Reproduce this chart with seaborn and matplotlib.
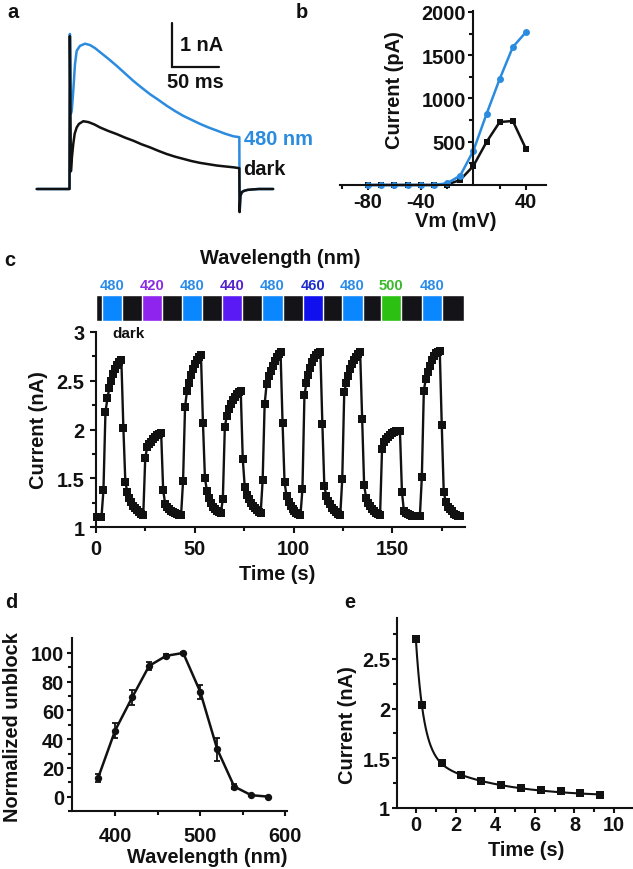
import numpy as np
import pandas as pd
import matplotlib
matplotlib.use("Agg")
import matplotlib.pyplot as plt
import matplotlib.transforms as mtransforms
import seaborn as sns

# ---------------- data ----------------
# panel a: current traces (time ms, current nA)
trace_t_480 = [-34.6, 0.0, 0.4, 1.5, 2.5, 4.0, 5.8, 7.6, 11.0, 16.4, 21.6, 27.0, 32.2, 41.0, 49.8,
               58.6, 67.4, 76.0, 85.0, 94.0, 102.6, 111.4, 120.2, 129.0, 137.8, 146.6, 155.4,
               164.0, 173.0, 179.3, 179.6, 180.5, 182.0, 184.5, 188.0, 193.0, 200.0, 215.0]
trace_i_480 = [0.0, 0.0, 3.50, 1.70, 1.80, 2.22, 2.82, 3.12, 3.23, 3.28, 3.25, 3.18, 3.09, 2.94, 2.78,
               2.61, 2.44, 2.29, 2.14, 2.01, 1.88, 1.76, 1.65, 1.56, 1.47, 1.39, 1.32,
               1.25, 1.19, 1.17, -0.52, -0.15, -0.07, -0.04, -0.02, -0.01, 0.0, 0.0]
trace_t_dark = [-34.6, 0.0, 0.4, 1.5, 2.5, 4.0, 5.5, 7.6, 10.0, 14.6, 20.0, 26.0, 32.2, 41.0, 49.8,
                58.6, 67.4, 76.0, 85.0, 94.0, 102.6, 111.4, 120.2, 129.0, 137.8, 146.6, 155.4,
                164.0, 173.0, 179.3, 179.6, 180.5, 182.0, 184.5, 188.0, 193.0, 200.0, 215.0]
trace_i_dark = [0.0, 0.0, 3.45, 0.40, 0.70, 1.02, 1.25, 1.39, 1.47, 1.53, 1.51, 1.46, 1.39, 1.31, 1.24,
                1.16, 1.09, 1.01, 0.94, 0.86, 0.79, 0.73, 0.68, 0.63, 0.59, 0.56, 0.53,
                0.51, 0.49, 0.47, -0.52, -0.15, -0.07, -0.04, -0.02, -0.01, 0.0, 0.0]

# panel b: I-V
vm = [-80, -70, -60, -50, -40, -30, -20, -10, 0, 10, 20, 30, 40]
iv_dark = [0, 0, 0, 0, 0, 0, 5, 58, 220, 497, 728, 740, 416]
iv_480 = [0, 0, 0, 0, 0, 0, 20, 108, 395, 820, 1225, 1595, 1768]

# panel c: stimulation protocol and current time course (1 sample ~1 s)
light_on = [3.1, 23.3, 43.5, 64.0, 83.9, 104.6, 124.3, 144.2, 164.7]
light_off = [13.5, 33.7, 53.9, 74.1, 94.5, 114.7, 135.0, 154.3, 175.2]
stim_wavelength = [480, 420, 480, 440, 480, 460, 480, 500, 480]
record_span = [0.25, 186.3]
sample_dt = 1.005
baseline_start = [1.10, 1.10, 1.10, 1.10]
cycle_480_a = [1.38, 2.18, 2.32, 2.43, 2.50, 2.57, 2.62, 2.66, 2.69, 2.71,
               2.02, 1.46, 1.36, 1.30, 1.26, 1.22, 1.19, 1.17, 1.15, 1.13]
cycle_420 = [1.12, 1.71, 1.82, 1.85, 1.87, 1.90, 1.92, 1.94, 1.95, 1.96,
             1.38, 1.24, 1.21, 1.18, 1.16, 1.15, 1.14, 1.13, 1.12, 1.12]
cycle_480_b = [1.47, 2.23, 2.40, 2.48, 2.56, 2.62, 2.67, 2.71, 2.74, 2.76,
               2.07, 1.50, 1.37, 1.30, 1.25, 1.21, 1.18, 1.16, 1.15, 1.14]
cycle_440 = [1.29, 2.03, 2.14, 2.21, 2.26, 2.30, 2.33, 2.36, 2.38, 2.39,
             1.70, 1.41, 1.33, 1.29, 1.25, 1.22, 1.19, 1.17, 1.15, 1.14]
cycle_480_c = [1.48, 2.26, 2.47, 2.55, 2.60, 2.65, 2.70, 2.74, 2.77, 2.79,
               2.07, 1.46, 1.32, 1.26, 1.22, 1.18, 1.16, 1.14, 1.13, 1.12]
cycle_460 = [1.39, 2.35, 2.48, 2.56, 2.63, 2.69, 2.73, 2.76, 2.78, 2.80,
             2.06, 1.42, 1.32, 1.27, 1.24, 1.20, 1.17, 1.15, 1.13, 1.12]
cycle_480_d = [1.49, 2.38, 2.48, 2.55, 2.62, 2.67, 2.71, 2.74, 2.77, 2.79,
               2.11, 1.43, 1.30, 1.25, 1.22, 1.18, 1.16, 1.14, 1.13, 1.12]
cycle_500 = [1.80, 1.87, 1.90, 1.92, 1.94, 1.96, 1.97, 1.98, 1.98, 1.98,
             1.36, 1.16, 1.14, 1.13, 1.12, 1.11, 1.11, 1.11, 1.11, 1.11]
cycle_480_e = [1.51, 2.40, 2.52, 2.59, 2.65, 2.71, 2.75, 2.78, 2.80, 2.81,
               2.05, 1.36, 1.26, 1.21, 1.18, 1.16, 1.13, 1.12, 1.11, 1.11]

# panel d: action spectrum
wl = [380, 400, 420, 440, 460, 480, 500, 520, 540, 560, 580]
unblock = [13, 46, 69, 91, 98, 100, 73, 33, 7, 1, 0]
unblock_err = [3, 5, 5, 3, 1.5, 1, 5, 8, 1.5, 0.5, 0.5]

# panel e: decay after light off, with double-exponential fit
decay_t = [0, 0.3, 1.3, 2.3, 3.3, 4.3, 5.3, 6.3, 7.3, 8.3, 9.3]
decay_i = [2.70, 2.04, 1.45, 1.33, 1.27, 1.23, 1.20, 1.18, 1.17, 1.15, 1.13]
fit_c, fit_a1, fit_tau1, fit_a2, fit_tau2 = 1.11, 1.15, 0.385, 0.44, 3.3

# ---------------- style ----------------
sns.set_theme(style="ticks")
INK = "#111111"
BLUE = "#2B8BDF"
plt.rcParams.update({
    "font.family": ["Liberation Sans", "DejaVu Sans"],
    "font.weight": "bold",
    "axes.labelweight": "bold",
    "axes.unicode_minus": False,
    "axes.linewidth": 1.5,
    "axes.edgecolor": INK,
    "axes.labelcolor": INK,
    "text.color": INK,
    "xtick.color": INK,
    "ytick.color": INK,
    "xtick.major.width": 1.5, "ytick.major.width": 1.5,
    "xtick.minor.width": 1.5, "ytick.minor.width": 1.5,
    "xtick.major.size": 3.5, "ytick.major.size": 3.5,
    "xtick.minor.size": 3.0, "ytick.minor.size": 3.0,
    "xtick.labelsize": 14.4, "ytick.labelsize": 14.4,
    "axes.labelsize": 14.4,
    "xtick.direction": "out", "ytick.direction": "out",
})

W, H = 633, 870
fig = plt.figure(figsize=(W / 100, H / 100), dpi=100)


def px_ax(l, t, r, b):
    return fig.add_axes([l / W, 1 - b / H, (r - l) / W, (b - t) / H])


def ftext(x, y, s, **kw):
    fig.text(x / W, 1 - y / H, s, **kw)


def clean(ax):
    sns.despine(ax=ax)
    ax.set_facecolor("none")

# ---------------- panel a ----------------
ax_a = px_ax(30, 15, 290, 218)
ax_a.set_xlim(-41.7, 232.8)
ax_a.set_ylim((190 - 218) / 44.3, 175 / 44.3)
ax_a.axis("off")
sns.lineplot(x=trace_t_480, y=trace_i_480, ax=ax_a, color=BLUE, lw=1.8, sort=False, estimator=None)
sns.lineplot(x=trace_t_dark, y=trace_i_dark, ax=ax_a, color=INK, lw=1.8, sort=False, estimator=None)
ax_a.plot([108.2, 108.2, 158.2], [3.754, 2.754, 2.754], color=INK, lw=1.6, solid_joinstyle="miter")
ax_a.text(116.5, 3.27, "1 nA", fontsize=14.4, ha="left", va="center")
ax_a.text(132.5, 2.42, "50 ms", fontsize=14.4, ha="center", va="center")
ax_a.text(184.5, 1.15, "480 nm", fontsize=14.4, ha="left", va="center", color=BLUE)
ax_a.text(183.0, 0.46, "dark", fontsize=14.4, ha="left", va="center")

# ---------------- panel b ----------------
ax_b = px_ax(340, 11.7, 546, 186)
sns.lineplot(x=vm, y=iv_dark, ax=ax_b, color=INK, lw=1.8, marker="s", markersize=3.8,
             markeredgecolor=INK, markeredgewidth=0, sort=False, estimator=None, clip_on=False)
sns.lineplot(x=vm, y=iv_480, ax=ax_b, color=BLUE, lw=1.8, marker="o", markersize=5,
             markeredgecolor=BLUE, markeredgewidth=0, sort=False, estimator=None, clip_on=False)
ax_b.set_xlim(-101.3, 55.2)
ax_b.set_ylim(0, 2015)
clean(ax_b)
ax_b.spines["left"].set_position(("data", 0))
ax_b.set_xticks([-80, -40, 40], labels=["-80", "-40", "40"])
ax_b.set_xticks([-100, -60, -20, 20], minor=True)
ax_b.set_yticks([500, 1000, 1500, 2000], labels=["500", "1000", "1500", "2000"])
ax_b.set_yticks([250, 750, 1250, 1750], minor=True)
ax_b.tick_params(axis="x", which="both", pad=1.5)
ax_b.tick_params(axis="y", which="both", pad=2)
ax_b.set_xlabel("Vm (mV)")
ax_b.set_ylabel("Current (pA)")
ax_b.xaxis.set_label_coords(0.563, -0.15)
ax_b.yaxis.set_label_coords(0.31, 0.55)

# ---------------- panel c ----------------
cycles = [cycle_480_a, cycle_420, cycle_480_b, cycle_440, cycle_480_c,
          cycle_460, cycle_480_d, cycle_500, cycle_480_e]
cur_c = list(baseline_start)
for cyc in cycles:
    cur_c += cyc
time_c = np.arange(len(cur_c)) * sample_dt
df_c = pd.DataFrame({"t": time_c, "i": cur_c})

xlim_c = ((93 - 95.5) / 1.98, (465 - 95.5) / 1.98)
ax_c = px_ax(93, 333, 465, 528)
sns.lineplot(data=df_c, x="t", y="i", ax=ax_c, color=INK, lw=1.7, marker="s", markersize=5.2,
             markeredgecolor=INK, markeredgewidth=0, sort=False, estimator=None)
ax_c.set_xlim(*xlim_c)
ax_c.set_ylim(1, 3)
clean(ax_c)
ax_c.spines["left"].set_position(("data", 0))
ax_c.spines["left"].set_bounds(1, 3)
ax_c.set_xticks([0, 50, 100, 150])
ax_c.set_xticks([25, 75, 125, 175], minor=True)
ax_c.set_yticks([1, 1.5, 2, 2.5, 3], labels=["1", "1.5", "2", "2.5", "3"])
ax_c.set_yticks([1.25, 1.75, 2.25, 2.75], minor=True)
ax_c.tick_params(which="major", length=4)
ax_c.tick_params(axis="x", which="both", pad=4.5)
ax_c.tick_params(axis="y", which="both", pad=4)
ax_c.set_xlabel("Time (s)")
ax_c.set_ylabel("Current (nA)")
ax_c.xaxis.set_label_coords(0.495, -0.19)
ax_c.yaxis.set_label_coords(-0.12, 0.5)
ax_c.text(8.3, 2.99, "dark", fontsize=11, ha="left", va="center")

# stimulus bar
bar_colors = {480: "#0A86FF", 420: "#8E24EE", 440: "#5A1AF5", 460: "#1010EE", 500: "#2CC012"}
txt_colors = {480: "#2A8BE8", 420: "#8A2BE2", 440: "#5522CC", 460: "#1E2ECC", 500: "#39B82A"}
ax_s = px_ax(93, 296, 465, 322)
ax_s.set_xlim(*xlim_c)
ax_s.set_ylim(0, 1)
ax_s.axis("off")
ax_s.barh(0.5, record_span[1] - record_span[0], left=record_span[0], height=1, color="#141418")
blend = mtransforms.blended_transform_factory(ax_s.transData, ax_s.transAxes)
for on, off, w in zip(light_on, light_off, stim_wavelength):
    ax_s.barh(0.5, off - on, left=on, height=1, color=bar_colors[w])
    ax_s.text((on + off) / 2, 1.4, str(w), transform=blend, ha="center", va="center",
              fontsize=10.6, fontweight="bold", color=txt_colors[w])
ax_s.text(0.5 * (record_span[0] + record_span[1]), 2.45, "Wavelength (nm)", transform=blend,
          ha="center", va="center", fontsize=14.4)

# ---------------- panel d ----------------
ax_d = px_ax(71.7, 639, 287, 812)
sns.lineplot(x=wl, y=unblock, ax=ax_d, color=INK, lw=1.8, marker="o", markersize=5.3,
             markeredgecolor=INK, markeredgewidth=0, sort=False, estimator=None)
ax_d.errorbar(wl, unblock, yerr=unblock_err, fmt="none", ecolor=INK, elinewidth=1.3,
              capsize=2.5, capthick=1.3)
ax_d.set_xlim(349, 602)
ax_d.set_ylim(-9.7, 110.4)
clean(ax_d)
ax_d.set_xticks([400, 500, 600])
ax_d.set_xticks([450, 550], minor=True)
ax_d.set_yticks([0, 20, 40, 60, 80, 100])
ax_d.set_yticks([-10, 10, 30, 50, 70, 90], minor=True)
ax_d.tick_params(axis="x", which="both", pad=7)
ax_d.tick_params(axis="y", which="both", pad=2)
ax_d.set_xlabel("Wavelength (nm)")
ax_d.set_ylabel("Normalized unblock")
ax_d.xaxis.set_label_coords(0.628, -0.21)
ax_d.yaxis.set_label_coords(-0.23, 0.49)

# ---------------- panel e ----------------
ax_e = px_ax(397, 619, 632, 809)
fit_t = np.linspace(decay_t[0], decay_t[-1], 300)
fit_i = fit_c + fit_a1 * np.exp(-fit_t / fit_tau1) + fit_a2 * np.exp(-fit_t / fit_tau2)
sns.lineplot(x=fit_t, y=fit_i, ax=ax_e, color=INK, lw=1.5, sort=False, estimator=None)
sns.scatterplot(x=decay_t, y=decay_i, ax=ax_e, color=INK, marker="s", s=34, linewidth=0)
ax_e.set_xlim(-0.95, 10.9)
ax_e.set_ylim(1, 2.91)
clean(ax_e)
ax_e.set_xticks([0, 2, 4, 6, 8, 10])
ax_e.set_xticks([1, 3, 5, 7, 9], minor=True)
ax_e.set_yticks([1, 1.5, 2, 2.5], labels=["1", "1.5", "2", "2.5"])
ax_e.set_yticks([1.25, 1.75, 2.25, 2.75], minor=True)
ax_e.tick_params(axis="x", which="both", pad=1.5)
ax_e.tick_params(axis="y", which="both", pad=1.5)
ax_e.set_xlabel("Time (s)")
ax_e.set_ylabel("Current (nA)")
ax_e.xaxis.set_label_coords(0.55, -0.17)
ax_e.yaxis.set_label_coords(-0.17, 0.44)

# panel letters
for s, x, y in [("a", 13, 12), ("b", 302, 12), ("c", 10, 261), ("d", 11, 603), ("e", 350, 603)]:
    ftext(x, y, s, fontsize=14.4, ha="center", va="center")

fig.savefig("out.png", dpi=100)
